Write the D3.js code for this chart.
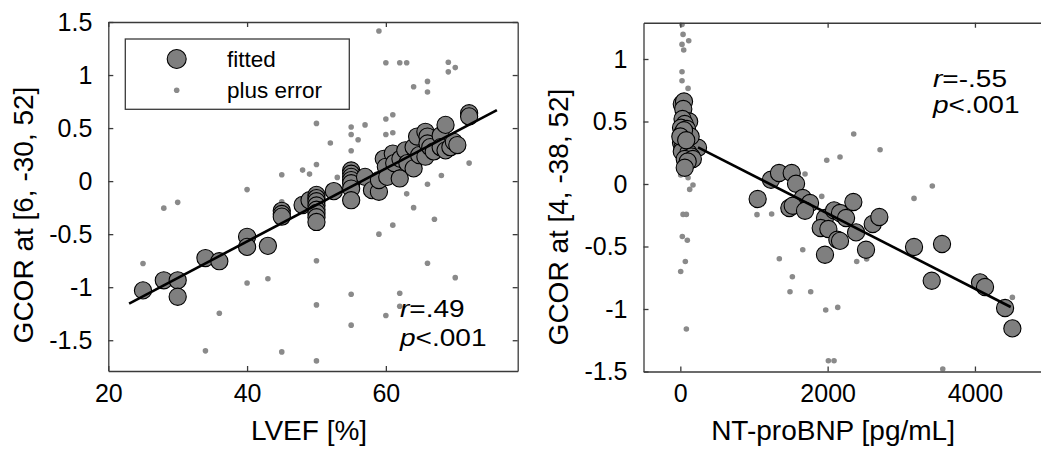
<!DOCTYPE html>
<html>
<head>
<meta charset="utf-8">
<script src="https://cdn.jsdelivr.net/npm/d3@7"></script>
<style>
  html, body { margin: 0; padding: 0; background: #fff; }
  svg { display: block; }
  text { font-family: "Liberation Sans", Arial, Helvetica, sans-serif; fill: #000; }
</style>
</head>
<body>
<svg id="chart" width="1041" height="449"></svg>
<script>
// ---------- Left panel data: LVEF vs GCOR at [6, -30, 52] ----------
const lvefFittedX = [25,28,30,30,34,36,40,40,43,45,45,45,48,49,50,50,50,50,50,50,50,50,
  52.5,55,55,55,55,55,55,55,57,58,59,59,59.7,60,60.2,61,61.2,62,62.1,62.8,63.1,64,64,64.8,64.5,
  65.7,65.7,66,66,66.4,66.9,67.9,67.9,68.6,69.3,69.8,68.6,70.3,72,72];
const lvefFittedY = [-1.03,-0.935,-0.935,-1.09,-0.725,-0.755,-0.525,-0.62,-0.61,-0.28,-0.31,-0.335,-0.225,-0.18,
  -0.13,-0.16,-0.19,-0.23,-0.27,-0.3,-0.34,-0.385,
  -0.094,0.10,0.07,0.04,0.01,-0.02,-0.07,-0.18,0.04,-0.085,-0.1,0.01,0.21,0.135,0.04,0.26,0.17,0.025,0.21,0.29,0.17,0.12,0.32,0.245,0.42,
  0.23,0.465,0.42,0.355,0.32,0.28,0.43,0.32,0.29,0.32,0.37,0.53,0.34,0.64,0.61];
const lvefErrX = [59,60,62,63,69,69,70,66,66,64,50,55,55,57,60,61,60,61,56,52,55,50,48,49,45,53,40,30,28,45,
  63,64,66,68,72,67,59,61,25,50,66,70,40,43,55,62,50,62,36,60,55,34,45,50];
const lvefErrY = [1.415,1.116,1.116,1.116,1.12,1.03,1.07,0.94,0.84,0.89,0.544,0.51,0.44,0.53,0.585,0.626,0.44,0.456,0.39,0.36,0.286,0.157,0.104,0.066,0.06,0.035,-0.08,-0.2,-0.255,-0.195,
  -0.12,-0.25,-0.03,0.053,0.17,-0.36,-0.5,-0.415,-0.777,-0.75,-0.774,-0.91,-0.96,-0.92,-1.066,-1.057,-1.167,-1.18,-1.245,-1.267,-1.358,-1.6,-1.61,-1.695];
const lvefLineX = [23, 76];
const lvefLineY = [-1.154, 0.67];
const lvefXTicks = [20, 40, 60];
const lvefYTicks = [-1.5, -1, -0.5, 0, 0.5, 1, 1.5];
const lvefStats = ["=.49", "<.001"];

// ---------- Right panel data: NT-proBNP vs GCOR at [4, -38, 52] ----------
const bnpFittedX = [20,50,40,120,30,60,10,90,20,70,40,100,10,60,130,30,80,240,20,110,150,60,170,100,60,140,50,0,80,
  1050,1231,1340,1512,1571,1662,1761,1480,1526,1693,1964,2087,2168,2250,2349,1906,2010,2132,2168,2386,1964,2521,2612,2702,
  3173,3553,3413,4069,4137,4409,4508];
const bnpFittedY = [0.64,0.66,0.6,0.5,0.52,0.48,0.45,0.44,0.4,0.41,0.37,0.36,0.33,0.33,0.32,0.29,0.28,0.29,0.26,0.25,0.22,0.2,0.2,0.18,0.13,0.38,0.43,0.38,0.35,
  -0.12,0.034,0.088,0.088,0.002,-0.112,-0.152,-0.192,-0.174,-0.214,-0.272,-0.211,-0.232,-0.272,-0.144,-0.352,-0.36,-0.446,-0.455,-0.387,-0.566,-0.526,-0.32,-0.264,
  -0.504,-0.48,-0.774,-0.787,-0.824,-0.992,-1.155];
const bnpErrX = [23,37,23,114,46,23,23,105,5,105,172,127,37,82,27,95,68,5,82,
  2354,2712,1988,2168,1693,1920,3421,3173,1041,1240,1662,1344,2395,2530,1521,1489,1770,1974,2137,2010,2087,3563,4508];
const bnpErrY = [1.277,1.197,1.117,1.146,1.072,0.898,0.826,0.765,0.072,0.05,-0.008,-0.043,-0.243,-0.243,-0.42,-0.45,-0.62,-0.70,-1.16,
  0.40,0.274,0.19,0.216,0.08,-0.099,-0.016,-0.115,-0.245,-0.24,-0.526,-0.598,-0.62,-0.60,-0.742,-0.862,-0.862,-1.008,-0.987,-1.414,-1.414,-1.48,-0.907];
const bnpLineX = [240, 4486];
const bnpLineY = [0.293, -0.984];
const bnpXTicks = [0, 2000, 4000];
const bnpYTicks = [-1.5, -1, -0.5, 0, 0.5, 1];
const bnpStats = ["=-.55", "<.001"];

const legendLabels = ["fitted", "plus error"];

// ---------- Styles ----------
const FIT_FILL = "#7f7f7f", ERR_FILL = "#8a8a8a", AXIS = "#3a3a3a";
const R_FIT = 8.6, R_ERR = 2.8;
const STAT_SIZE = 23, STAT_STRETCH = 1.22;

const svg = d3.select("#chart");

function fmtTick(v) {
  return v === 0 ? "0" : String(v);
}

function panel(cfg) {
  const g = svg.append("g");
  const x = d3.scaleLinear().domain(cfg.xDomain).range(cfg.xRange);
  const y = d3.scaleLinear().domain(cfg.yDomain).range(cfg.yRange);
  const [x0, x1] = cfg.xRange, [y0, y1] = cfg.yRange; // y0 bottom, y1 top

  const clipId = "clip" + cfg.id;
  svg.append("clipPath").attr("id", clipId).append("rect")
    .attr("x", x0).attr("y", y1).attr("width", x1 - x0).attr("height", y0 - y1);

  const plot = g.append("g").attr("clip-path", `url(#${clipId})`);

  // error dots
  plot.selectAll("circle.err").data(cfg.errX.map((d, i) => [d, cfg.errY[i]]))
    .join("circle").attr("class", "err")
    .attr("cx", d => x(d[0])).attr("cy", d => y(d[1])).attr("r", R_ERR)
    .attr("fill", ERR_FILL);

  // fitted circles
  plot.selectAll("circle.fit").data(cfg.fitX.map((d, i) => [d, cfg.fitY[i]]))
    .join("circle").attr("class", "fit")
    .attr("cx", d => x(d[0])).attr("cy", d => y(d[1])).attr("r", R_FIT)
    .attr("fill", FIT_FILL).attr("stroke", "#000").attr("stroke-width", 1.1);

  // regression line
  plot.append("path")
    .datum(cfg.lineX.map((d, i) => [d, cfg.lineY[i]]))
    .attr("d", d3.line().x(d => x(d[0])).y(d => y(d[1])))
    .attr("stroke", "#000").attr("stroke-width", 2.6).attr("fill", "none");

  // axes (box with inward ticks)
  const tickLen = 5;
  const axB = d3.axisBottom(x).tickValues(cfg.xTicks).tickSizeInner(-tickLen).tickSizeOuter(0).tickPadding(13).tickFormat(fmtTick);
  const axT = d3.axisTop(x).tickValues(cfg.xTicks).tickSizeInner(-tickLen).tickSizeOuter(0).tickFormat("");
  const axL = d3.axisLeft(y).tickValues(cfg.yTicks).tickSizeInner(-tickLen).tickSizeOuter(0).tickPadding(16).tickFormat(fmtTick);
  const axR = d3.axisRight(y).tickValues(cfg.yTicks).tickSizeInner(-tickLen).tickSizeOuter(0).tickFormat("");

  const gB = g.append("g").attr("transform", `translate(0,${y0})`).call(axB);
  const gT = g.append("g").attr("transform", `translate(0,${y1})`).call(axT);
  const gL = g.append("g").attr("transform", `translate(${x0},0)`).call(axL);
  const gR = g.append("g").attr("transform", `translate(${x1},0)`).call(axR);
  [gB, gT, gL, gR].forEach(a => {
    a.select(".domain").attr("stroke", AXIS).attr("stroke-width", 1.3);
    a.selectAll(".tick line").attr("stroke", AXIS).attr("stroke-width", 1.3);
    a.selectAll("text").attr("font-size", 25).attr("font-family", "Liberation Sans, Arial, sans-serif").attr("fill", "#000");
  });
  gB.selectAll("text").attr("dy", "0.71em");

  // axis labels
  g.append("text").attr("x", (x0 + x1) / 2 + cfg.xLabelDx).attr("y", 440)
    .attr("text-anchor", "middle").attr("font-size", 28).text(cfg.xLabel);
  g.append("text")
    .attr("transform", `translate(${cfg.yLabelX},${cfg.yLabelY}) rotate(-90)`)
    .attr("text-anchor", "middle").attr("font-size", 28).text(cfg.yLabel);

  // stats (r and p)
  const st = g.append("g").attr("font-size", STAT_SIZE);
  [["r", cfg.stats[0]], ["p", cfg.stats[1]]].forEach((s, i) => {
    const t = st.append("text")
      .attr("transform", `translate(${cfg.statX},${cfg.statY[i]}) scale(${STAT_STRETCH},1)`);
    t.append("tspan").attr("font-style", "italic").text(s[0]);
    t.append("tspan").text(s[1]);
  });
  return {x, y, g};
}

const left = panel({
  id: "L", xDomain: [20, 79], xRange: [108.3, 517.7], yDomain: [-1.79, 1.5], yRange: [371, 22],
  fitX: lvefFittedX, fitY: lvefFittedY, errX: lvefErrX, errY: lvefErrY,
  lineX: lvefLineX, lineY: lvefLineY, xTicks: lvefXTicks, yTicks: lvefYTicks,
  xLabel: "LVEF [%]", xLabelDx: -4, yLabel: "GCOR at [6, -30, 52]", yLabelX: 33, yLabelY: 215,
  stats: lvefStats, statX: 400, statY: [317, 346]
});

const right = panel({
  id: "R", xDomain: [-500, 5000], xRange: [643.5, 1048.6], yDomain: [-1.5, 1.29], yRange: [371.5, 22.75],
  fitX: bnpFittedX, fitY: bnpFittedY, errX: bnpErrX, errY: bnpErrY,
  lineX: bnpLineX, lineY: bnpLineY, xTicks: bnpXTicks, yTicks: bnpYTicks,
  xLabel: "NT-proBNP [pg/mL]", xLabelDx: -13, yLabel: "GCOR at [4, -38, 52]", yLabelX: 568, yLabelY: 217,
  stats: bnpStats, statX: 933, statY: [87, 113]
});

// legend (left panel)
const lg = svg.append("g");
lg.append("rect").attr("x", 125.3).attr("y", 39).attr("width", 224).attr("height", 70.3)
  .attr("fill", "#fff").attr("stroke", AXIS).attr("stroke-width", 1.3);
lg.append("circle").attr("cx", 176.7).attr("cy", 59).attr("r", 9.5)
  .attr("fill", FIT_FILL).attr("stroke", "#000").attr("stroke-width", 1.1);
lg.append("circle").attr("cx", 176.7).attr("cy", 90.3).attr("r", R_ERR).attr("fill", ERR_FILL);
lg.selectAll("text.lab").data(legendLabels).join("text").attr("class", "lab")
  .attr("x", 227).attr("y", (d, i) => 67 + i * 31).attr("font-size", 22.5).text(d => d);
</script>
</body>
</html>
